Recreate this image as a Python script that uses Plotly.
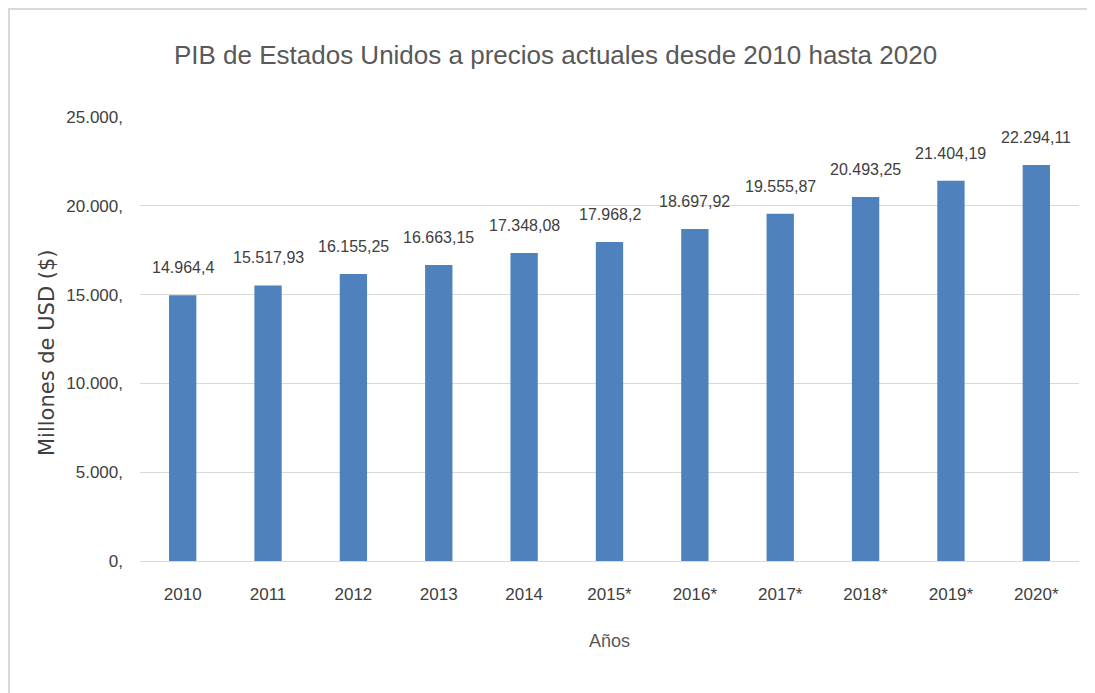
import plotly.graph_objects as go

# PIB de EE.UU. (millones de USD)
years = ["2010", "2011", "2012", "2013", "2014", "2015*", "2016*", "2017*", "2018*", "2019*", "2020*"]
gdp = [14964.4, 15517.93, 16155.25, 16663.15, 17348.08, 17968.2, 18697.92, 19555.87, 20493.25, 21404.19, 22294.11]
y_ticks = [0, 5000, 10000, 15000, 20000, 25000]


def es_num(v):
    s = f"{v:,.2f}".rstrip("0").rstrip(".")
    return s.replace(",", "X").replace(".", ",").replace("X", ".")


labels = [es_num(v) for v in gdp]
tick_text = [f"{v:,.0f}".replace(",", ".") + "," for v in y_ticks]

base_font = "Liberation Sans, Arial, sans-serif"

fig = go.Figure()
fig.add_trace(go.Bar(
    x=years,
    y=gdp,
    marker=dict(color="#4F81BD", line=dict(width=0)),
    width=0.32,
    hoverinfo="x+y",
))

# etiquetas de datos encima de cada barra (x = indice de categoria)
for i, (val, lab) in enumerate(zip(gdp, labels)):
    fig.add_annotation(
        x=i, y=val, text=lab, showarrow=False,
        yanchor="bottom", yshift=17,
        font=dict(family=base_font, size=16, color="#404040"),
    )

# titulo del eje Y, colocado a mano
fig.add_annotation(
    xref="paper", yref="paper", x=-0.099, y=0.4685,
    text="Millones de USD ($)", textangle=-90, showarrow=False,
    xanchor="center", yanchor="middle",
    font=dict(family="DejaVu Sans", size=21, color="#404040"),
)

fig.update_layout(
    width=1095,
    height=693,
    paper_bgcolor="white",
    plot_bgcolor="white",
    margin=dict(l=132, r=24, t=109, b=140),
    showlegend=False,
    title=dict(
        text="PIB de Estados Unidos a precios actuales desde 2010 hasta 2020",
        font=dict(family=base_font, size=26, color="#595959"),
        x=0.5, xanchor="center", y=0.932, yanchor="middle",
    ),
    xaxis=dict(
        type="category",
        categoryorder="array", categoryarray=years,
        range=[-0.5, len(years) - 0.5],
        title=dict(text="Años", font=dict(family=base_font, size=18, color="#595959"), standoff=30),
        tickfont=dict(family=base_font, size=17, color="#404040"),
        showgrid=False,
        showline=True, linecolor="#d9d9d9", linewidth=1,
        ticks="", ticklabelstandoff=18,
    ),
    yaxis=dict(
        tickvals=y_ticks,
        ticktext=tick_text,
        range=[0, 25000],
        tickfont=dict(family=base_font, size=17, color="#404040"),
        showgrid=True, gridcolor="#d9d9d9", gridwidth=1,
        zeroline=False,
        ticks="", ticklabelstandoff=16,
    ),
    shapes=[dict(
        type="rect", xref="paper", yref="paper",
        x0=-0.1395, x1=1.05, y0=-0.4, y1=1.2432,
        line=dict(color="#d9d9d9", width=2), layer="below",
    )],
)

fig.write_html("out.html")
